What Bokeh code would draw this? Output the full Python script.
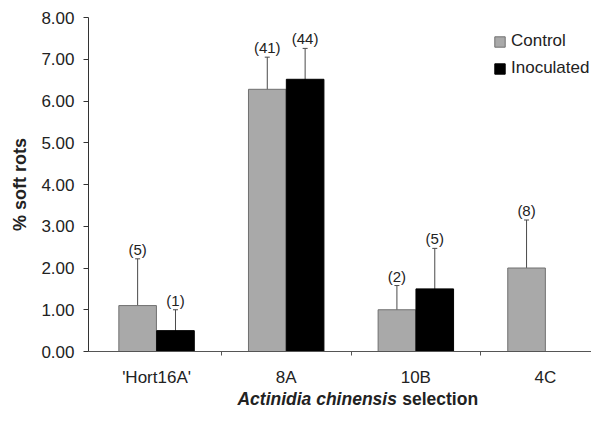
from bokeh.plotting import figure
from bokeh.layouts import column
from bokeh.models import (Range1d, FixedTicker, NumeralTickFormatter, Whisker, TeeHead,
                          ColumnDataSource, LabelSet, Legend, LegendItem)
from bokeh.core.properties import value
from bokeh.embed import file_html
from bokeh.resources import INLINE

# ---- data ----
categories = ["'Hort16A'", "8A", "10B", "4C"]
control_mean = [1.10, 6.28, 1.00, 2.00]
control_err = [1.12, 0.77, 0.58, 1.15]
control_n = ["(5)", "(41)", "(2)", "(8)"]

inoc_categories = ["'Hort16A'", "8A", "10B"]
inoc_mean = [0.50, 6.52, 1.50]
inoc_err = [0.50, 0.74, 0.97]
inoc_n = ["(1)", "(44)", "(5)"]

y_ticks = [0, 1, 2, 3, 4, 5, 6, 7, 8]
x_title_italic = "Actinidia chinensis"
x_title_rest = "selection"
y_title = "% soft rots"

FONT = "Liberation Sans"
TXT = "#222222"
GRAY = "#a9a9a9"
BAR_W = 0.29
OFF = 0.146
LEFT = 88

def center(cat):
    return categories.index(cat) + 0.5

c_x = [center(c) - OFF for c in categories]
i_x = [center(c) + OFF for c in inoc_categories]

src_c = ColumnDataSource(dict(x=c_x, top=control_mean,
                              upper=[m + e for m, e in zip(control_mean, control_err)],
                              lower=[m - e for m, e in zip(control_mean, control_err)],
                              n=control_n))
src_i = ColumnDataSource(dict(x=i_x, top=inoc_mean,
                              upper=[m + e for m, e in zip(inoc_mean, inoc_err)],
                              lower=[m - e for m, e in zip(inoc_mean, inoc_err)],
                              n=inoc_n))

xr = Range1d(-0.025, 3.855)
p = figure(width=591, height=389, output_backend="svg", toolbar_location=None,
           x_range=xr, y_range=Range1d(0, 8),
           min_border_left=LEFT, min_border_right=0, min_border_top=17, min_border_bottom=36)
p.outline_line_color = None
p.xgrid.visible = False
p.ygrid.visible = False

r_c = p.vbar(x="x", top="top", width=BAR_W, bottom=0, source=src_c,
             fill_color=GRAY, line_color="#707070", line_width=1)
r_i = p.vbar(x="x", top="top", width=BAR_W, bottom=0, source=src_i,
             fill_color="black", line_color="black", line_width=1)

for s in (src_c, src_i):
    w = Whisker(base="x", upper="upper", lower="lower", source=s,
                line_color="#4a4a4a", line_width=1,
                upper_head=TeeHead(size=5, line_color="#4a4a4a", line_width=1),
                lower_head=TeeHead(size=5, line_color="#4a4a4a", line_width=1))
    p.add_layout(w)
    ls = LabelSet(x="x", y="upper", text="n", source=s, text_align="center",
                  text_baseline="bottom", y_offset=1, text_font=value(FONT),
                  text_font_size="15px", text_color=TXT)
    p.add_layout(ls)

# y axis
ya = p.yaxis[0]
ya.ticker = FixedTicker(ticks=y_ticks)
ya.formatter = NumeralTickFormatter(format="0.00")
ya.axis_label = y_title
ya.axis_label_text_font = FONT
ya.axis_label_text_font_style = "bold"
ya.axis_label_text_font_size = "18px"
ya.axis_label_text_color = TXT
ya.axis_label_standoff = 8
ya.major_label_text_font = FONT
ya.major_label_text_font_size = "17px"
ya.major_label_text_color = TXT
ya.major_label_standoff = 9
ya.major_tick_out = 5
ya.major_tick_in = 0
ya.minor_tick_out = 0
ya.minor_tick_in = 0
ya.axis_line_color = "#333333"
ya.major_tick_line_color = "#333333"

# x axis
xa = p.xaxis[0]
xa.ticker = FixedTicker(ticks=[i + 0.5 for i in range(len(categories))],
                        minor_ticks=[1, 2, 3])
xa.major_label_overrides = {i + 0.5: c for i, c in enumerate(categories)}
xa.major_label_text_font = FONT
xa.major_label_text_font_size = "17px"
xa.major_label_text_color = TXT
xa.major_label_standoff = 12
xa.major_tick_out = 0
xa.major_tick_in = 0
xa.minor_tick_out = 4
xa.minor_tick_in = 0
xa.minor_tick_line_color = "#555555"
xa.axis_line_color = "#555555"

legend = Legend(items=[LegendItem(label="Control", renderers=[r_c]),
                       LegendItem(label="Inoculated", renderers=[r_i])],
                location=(405, 273), orientation="vertical")
legend.glyph_width = 13
legend.glyph_height = 13
legend.label_standoff = 5
legend.padding = 0
legend.margin = 0
legend.spacing = 7
legend.border_line_color = None
legend.background_fill_alpha = 0
legend.label_text_font = FONT
legend.label_text_font_size = "17px"
legend.label_text_color = TXT
p.add_layout(legend)

# x axis title strip (mixed italic / upright bold)
p2 = figure(width=591, height=20, output_backend="svg", toolbar_location=None,
            x_range=xr, y_range=Range1d(0, 20),
            min_border_left=LEFT, min_border_right=0, min_border_top=0, min_border_bottom=0)
p2.axis.visible = False
p2.grid.visible = False
p2.outline_line_color = None
p2.text(x=[2.354], y=[11], text=[x_title_italic], text_align="right",
        text_baseline="alphabetic", text_font=value(FONT), text_font_size="17.5px",
        text_font_style="bold italic", text_color=TXT)
p2.text(x=[2.395], y=[11], text=[x_title_rest], text_align="left",
        text_baseline="alphabetic", text_font=value(FONT), text_font_size="17.5px",
        text_font_style="bold", text_color=TXT)

layout = column(p, p2, spacing=0)
open("out.html", "w").write(file_html(layout, INLINE))
